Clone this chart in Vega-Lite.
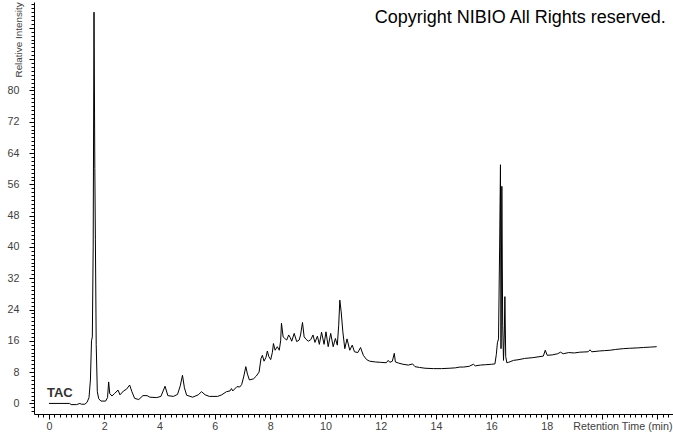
{
  "$schema": "https://vega.github.io/schema/vega-lite/v6.json",
  "width": 639,
  "height": 412,
  "autosize": {"type": "none"},
  "padding": {"left": 34, "top": 2, "right": 0, "bottom": 19},
  "background": "white",
  "config": {
    "view": {"stroke": null},
    "axis": {"domainColor": "#000000", "tickColor": "#000000", "grid": false, "labelFont": "Liberation Sans", "titleFont": "Liberation Sans"}
  },
  "resolve": {"axis": {"x": "independent", "y": "independent"}},
  "layer": [
    {
      "data": {"values": [
        {"t":0,"v":0},{"t":0.4,"v":0},{"t":0.75,"v":0},{"t":0.8,"v":-0.3},{"t":1.0,"v":-0.3},{"t":1.12,"v":0},{"t":1.17,"v":-0.2},{"t":1.3,"v":-0.2},{"t":1.38,"v":0.3},{"t":1.45,"v":1.5},{"t":1.5,"v":6},{"t":1.54,"v":16},{"t":1.57,"v":17},{"t":1.6,"v":40},{"t":1.63,"v":100},{"t":1.66,"v":60},{"t":1.68,"v":42},{"t":1.71,"v":15},{"t":1.75,"v":3},{"t":1.8,"v":1.2},{"t":1.88,"v":0.6},{"t":2.05,"v":0.6},{"t":2.12,"v":1.5},{"t":2.16,"v":5.5},{"t":2.2,"v":2.5},{"t":2.28,"v":1.9},{"t":2.38,"v":2.6},{"t":2.5,"v":3.4},{"t":2.57,"v":2.2},{"t":2.7,"v":3.2},{"t":2.8,"v":3.6},{"t":2.92,"v":4.7},{"t":3.0,"v":3},{"t":3.1,"v":1.3},{"t":3.25,"v":1.0},{"t":3.4,"v":2.0},{"t":3.55,"v":2.0},{"t":3.65,"v":1.6},{"t":3.9,"v":1.5},{"t":4.05,"v":1.8},{"t":4.2,"v":4.4},{"t":4.3,"v":2.0},{"t":4.5,"v":1.8},{"t":4.65,"v":2.3},{"t":4.75,"v":4.5},{"t":4.83,"v":7.2},{"t":4.9,"v":4},{"t":4.98,"v":2.1},{"t":5.2,"v":1.6},{"t":5.4,"v":2.2},{"t":5.52,"v":3.0},{"t":5.65,"v":2.2},{"t":5.8,"v":1.8},{"t":6.1,"v":1.8},{"t":6.25,"v":2.2},{"t":6.42,"v":3.0},{"t":6.55,"v":3.2},{"t":6.6,"v":3.8},{"t":6.65,"v":3.2},{"t":6.8,"v":4.3},{"t":6.9,"v":4.2},{"t":6.97,"v":4.8},{"t":7.05,"v":7},{"t":7.12,"v":9.4},{"t":7.18,"v":7.5},{"t":7.25,"v":6.0},{"t":7.4,"v":6.3},{"t":7.5,"v":7.0},{"t":7.6,"v":8.0},{"t":7.67,"v":11.5},{"t":7.72,"v":12.3},{"t":7.78,"v":10.8},{"t":7.85,"v":11.8},{"t":7.9,"v":13.4},{"t":7.95,"v":12},{"t":8.02,"v":11.2},{"t":8.08,"v":13},{"t":8.12,"v":15.3},{"t":8.18,"v":13.6},{"t":8.26,"v":14.5},{"t":8.33,"v":13.6},{"t":8.38,"v":16},{"t":8.41,"v":20.5},{"t":8.47,"v":17.0},{"t":8.53,"v":16.6},{"t":8.6,"v":16.2},{"t":8.67,"v":17.5},{"t":8.73,"v":16.8},{"t":8.78,"v":15.9},{"t":8.87,"v":17.9},{"t":8.96,"v":15.8},{"t":9.05,"v":16.2},{"t":9.1,"v":17.5},{"t":9.17,"v":20.7},{"t":9.23,"v":17},{"t":9.3,"v":16.4},{"t":9.38,"v":15.9},{"t":9.47,"v":16.3},{"t":9.55,"v":17.5},{"t":9.62,"v":15.6},{"t":9.71,"v":17.2},{"t":9.78,"v":15.1},{"t":9.86,"v":18.2},{"t":9.95,"v":15.1},{"t":10.02,"v":18.3},{"t":10.1,"v":14.5},{"t":10.19,"v":17.9},{"t":10.28,"v":14.5},{"t":10.36,"v":16.6},{"t":10.43,"v":14.9},{"t":10.48,"v":20},{"t":10.52,"v":26.4},{"t":10.57,"v":23.4},{"t":10.63,"v":18.3},{"t":10.7,"v":14.0},{"t":10.78,"v":16.5},{"t":10.88,"v":13.6},{"t":10.97,"v":14.9},{"t":11.05,"v":13.2},{"t":11.17,"v":13.0},{"t":11.27,"v":14.3},{"t":11.37,"v":12.3},{"t":11.49,"v":11.2},{"t":11.6,"v":10.8},{"t":11.8,"v":10.6},{"t":12.0,"v":10.5},{"t":12.2,"v":10.4},{"t":12.27,"v":11.0},{"t":12.33,"v":10.5},{"t":12.42,"v":10.8},{"t":12.49,"v":12.8},{"t":12.53,"v":10.6},{"t":12.65,"v":10.3},{"t":12.81,"v":10.0},{"t":13.0,"v":9.8},{"t":13.15,"v":10.1},{"t":13.24,"v":9.4},{"t":13.4,"v":9.2},{"t":13.6,"v":9.0},{"t":13.9,"v":8.9},{"t":14.2,"v":8.9},{"t":14.5,"v":9.0},{"t":14.7,"v":9.1},{"t":14.86,"v":9.3},{"t":15.0,"v":9.3},{"t":15.2,"v":9.5},{"t":15.35,"v":10.0},{"t":15.42,"v":9.6},{"t":15.6,"v":9.8},{"t":15.8,"v":9.9},{"t":16.0,"v":10.0},{"t":16.13,"v":10.1},{"t":16.18,"v":12.5},{"t":16.22,"v":15.5},{"t":16.26,"v":16.5},{"t":16.3,"v":40},{"t":16.33,"v":61},{"t":16.35,"v":14},{"t":16.38,"v":55.5},{"t":16.41,"v":20},{"t":16.44,"v":11},{"t":16.47,"v":18},{"t":16.49,"v":27.3},{"t":16.52,"v":12},{"t":16.56,"v":10.4},{"t":16.62,"v":10.5},{"t":16.8,"v":11.0},{"t":17.0,"v":11.2},{"t":17.2,"v":11.5},{"t":17.5,"v":11.7},{"t":17.88,"v":12.1},{"t":17.95,"v":13.6},{"t":18.02,"v":12.3},{"t":18.2,"v":12.4},{"t":18.4,"v":12.7},{"t":18.5,"v":13.1},{"t":18.6,"v":12.7},{"t":18.8,"v":13.0},{"t":19.0,"v":12.9},{"t":19.2,"v":13.1},{"t":19.5,"v":13.2},{"t":19.57,"v":13.7},{"t":19.63,"v":13.2},{"t":19.9,"v":13.4},{"t":20.1,"v":13.5},{"t":20.3,"v":13.6},{"t":20.5,"v":13.8},{"t":20.77,"v":14.0},{"t":21.0,"v":14.1},{"t":21.3,"v":14.2},{"t":21.5,"v":14.3},{"t":21.75,"v":14.4},{"t":21.98,"v":14.5}
      ]},
      "mark": {"type": "line", "color": "#000000", "strokeWidth": 1, "clip": true},
      "encoding": {
        "x": {
          "field": "t", "type": "quantitative",
          "scale": {"domain": [-0.54, 22.57], "nice": false, "zero": false},
          "axis": {
            "orient": "bottom",
            "values": [0, 2, 4, 6, 8, 10, 12, 14, 16, 18, 20, 22],
            "labelExpr": "datum.value <= 18 ? datum.label : ''",
            "tickSize": 5, "labelPadding": 2, "labelFontSize": 10.7, "labelColor": "#404040",
            "title": "Retention Time (min)", "titleFontSize": 10.7, "titleFontWeight": "normal", "titleColor": "#404040",
            "titleX": 638, "titleY": 12, "titleAlign": "right", "titleBaseline": "middle", "titleAngle": 0
          }
        },
        "y": {
          "field": "v", "type": "quantitative",
          "scale": {"domain": [-2.7, 102.6], "nice": false, "zero": false},
          "axis": {
            "orient": "left",
            "values": [0, 8, 16, 24, 32, 40, 48, 56, 64, 72, 80, 88, 96],
            "labelExpr": "datum.value <= 80 ? datum.label : ''",
            "tickSize": 5, "labelPadding": 10, "labelFontSize": 10.7, "labelColor": "#404040",
            "title": "Relative Intensity", "titleFontSize": 9.9, "titleFontWeight": "normal", "titleColor": "#404040",
            "titleAngle": 270, "titleX": -15.5, "titleY": 75, "titleAlign": "left", "titleBaseline": "middle"
          }
        }
      }
    },
    {
      "data": {"values": [{}]},
      "mark": {"type": "text", "text": "TAC", "font": "Liberation Sans", "fontWeight": "bold", "fontSize": 13, "color": "#333333", "align": "left", "baseline": "alphabetic"},
      "encoding": {
        "x": {
          "datum": -0.07, "type": "quantitative",
          "axis": {
            "orient": "bottom", "domain": false, "labels": false, "title": null, "tickSize": 3,
            "values": [-0.4,-0.2,0,0.2,0.4,0.6,0.8,1,1.2,1.4,1.6,1.8,2,2.2,2.4,2.6,2.8,3,3.2,3.4,3.6,3.8,4,4.2,4.4,4.6,4.8,5,5.2,5.4,5.6,5.8,6,6.2,6.4,6.6,6.8,7,7.2,7.4,7.6,7.8,8,8.2,8.4,8.6,8.8,9,9.2,9.4,9.6,9.8,10,10.2,10.4,10.6,10.8,11,11.2,11.4,11.6,11.8,12,12.2,12.4,12.6,12.8,13,13.2,13.4,13.6,13.8,14,14.2,14.4,14.6,14.8,15,15.2,15.4,15.6,15.8,16,16.2,16.4,16.6,16.8,17,17.2,17.4,17.6,17.8,18,18.2,18.4,18.6,18.8,19,19.2,19.4,19.6,19.8,20,20.2,20.4,20.6,20.8,21,21.2,21.4,21.6,21.8,22,22.2,22.4]
          }
        },
        "y": {
          "datum": 1.7, "type": "quantitative",
          "axis": {
            "orient": "left", "domain": false, "labels": false, "title": null, "tickSize": 3,
            "values": [-2,-1,0,1,2,3,4,5,6,7,8,9,10,11,12,13,14,15,16,17,18,19,20,21,22,23,24,25,26,27,28,29,30,31,32,33,34,35,36,37,38,39,40,41,42,43,44,45,46,47,48,49,50,51,52,53,54,55,56,57,58,59,60,61,62,63,64,65,66,67,68,69,70,71,72,73,74,75,76,77,78,79,80,81,82,83,84,85,86,87,88,89,90,91,92,93,94,95,96,97,98,99,100,101,102]
          }
        }
      }
    },
    {
      "data": {"values": [{}]},
      "mark": {"type": "text", "text": "Copyright NIBIO All Rights reserved.", "font": "Liberation Sans", "fontSize": 18, "color": "#000000", "align": "right", "baseline": "alphabetic"},
      "encoding": {
        "x": {"datum": 22.31, "type": "quantitative", "axis": null},
        "y": {"datum": 97.2, "type": "quantitative", "axis": null}
      }
    }
  ]
}
